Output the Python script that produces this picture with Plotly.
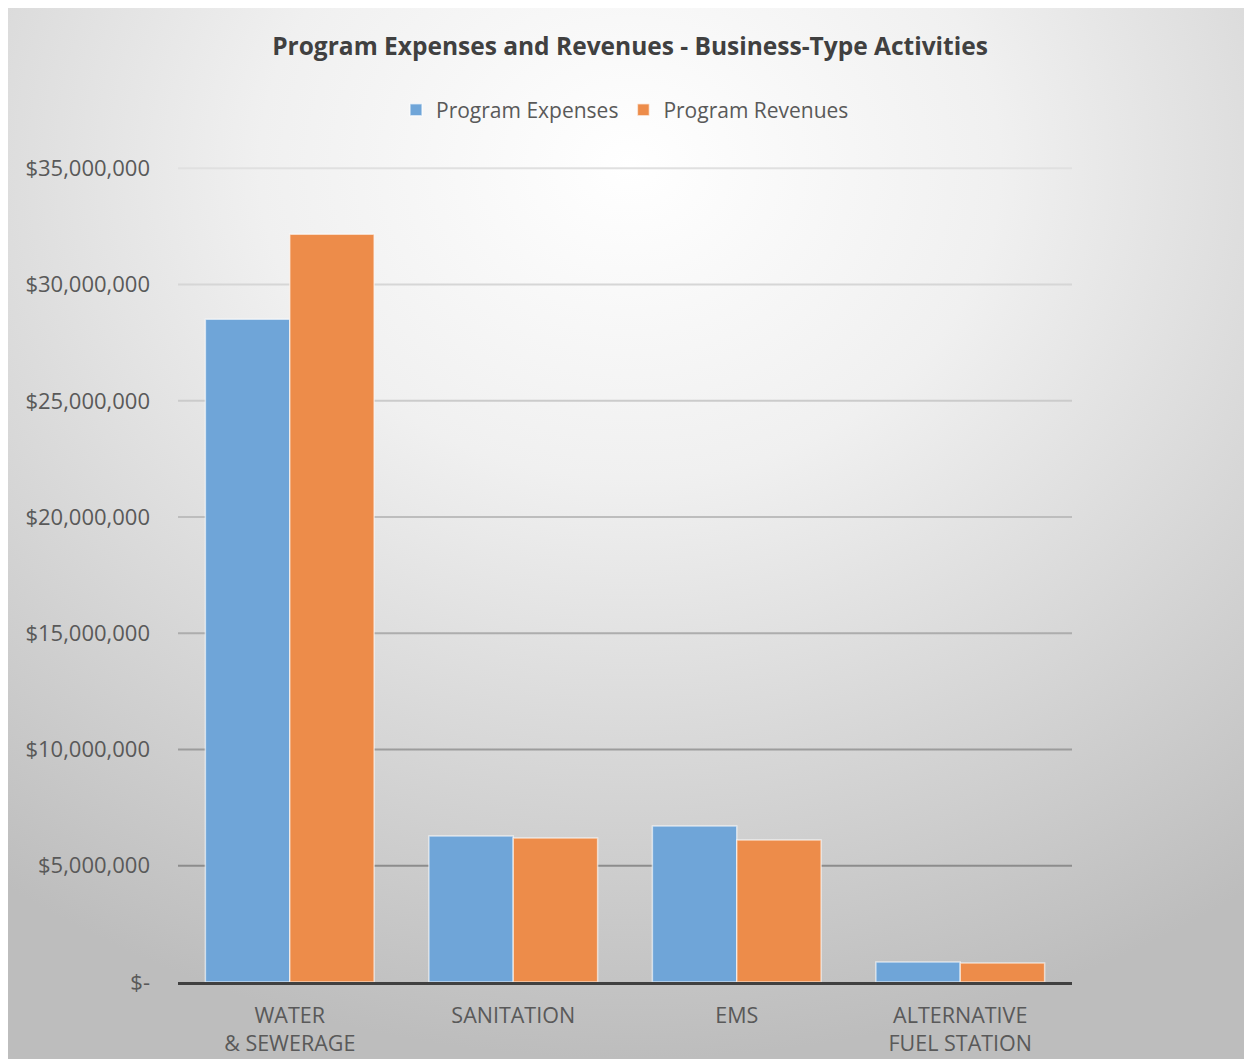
import base64
import plotly.graph_objects as go

categories = ["WATER<br>& SEWERAGE", "SANITATION", "EMS", "ALTERNATIVE<br>FUEL STATION"]
expenses = [28_510_000, 6_280_000, 6_710_000, 860_000]
revenues = [32_160_000, 6_190_000, 6_110_000, 820_000]
tick_vals = [0, 5_000_000, 10_000_000, 15_000_000, 20_000_000, 25_000_000, 30_000_000, 35_000_000]
tick_text = ["$-", "$5,000,000", "$10,000,000", "$15,000,000", "$20,000,000",
             "$25,000,000", "$30,000,000", "$35,000,000"]
grid_colors = [None, "#8c8c8c", "#9c9c9c", "#adadad", "#bdbdbd", "#cbcbcb", "#d6d6d6", "#e0e0e0"]

# page body has an 8px margin, so the figure is offset by 8px
W, H = 1244, 1051
L, T = 170, 158
pw, ph = 894, 816
R, B = W - L - pw, H - T - ph

svg = f"""<svg xmlns='http://www.w3.org/2000/svg' width='{W}' height='{H}' preserveAspectRatio='none'>
<defs><radialGradient id='g' cx='50%' cy='15%' r='85%' fx='50%' fy='15%'>
<stop offset='0' stop-color='#ffffff'/><stop offset='0.35' stop-color='#f0f0f0'/>
<stop offset='1' stop-color='#bdbdbd'/></radialGradient></defs>
<rect x='0' y='0' width='{W}' height='{H}' fill='url(#g)'/>
</svg>"""
src = "data:image/svg+xml;base64," + base64.b64encode(svg.encode()).decode()

fig = go.Figure()
fig.add_trace(go.Bar(x=categories, y=expenses, name="Program Expenses",
                     marker=dict(color="#6fa5d8", line=dict(color="rgba(255,255,255,0.6)", width=1.5))))
fig.add_trace(go.Bar(x=categories, y=revenues, name="Program Revenues",
                     marker=dict(color="#ed8c4a", line=dict(color="rgba(255,255,255,0.6)", width=1.5))))

for v, c in zip(tick_vals, grid_colors):
    if c is None:
        continue
    fig.add_shape(type="line", xref="paper", yref="y", x0=0, x1=1, y0=v, y1=v,
                  line=dict(color=c, width=2), layer="below")

fig.update_layout(
    width=W, height=H,
    margin=dict(l=L, r=R, t=T, b=B, autoexpand=False),
    paper_bgcolor="#e8e8e8",
    plot_bgcolor="rgba(0,0,0,0)",
    font=dict(family="Open Sans", size=21, color="#595959"),
    title=dict(text="<b>Program Expenses and Revenues - Business-Type Activities</b>",
               x=0.5, xanchor="center", y=1 - 38 / H, yanchor="middle",
               font=dict(family="Open Sans", size=24.5, color="#404040")),
    legend=dict(orientation="h", x=0.5, xanchor="center", y=1 + 56 / ph, yanchor="middle",
                font=dict(size=21, color="#595959"), bgcolor="rgba(0,0,0,0)",
                itemwidth=30, traceorder="normal"),
    barmode="group", bargap=0.245, bargroupgap=0,
    images=[dict(source=src, xref="paper", yref="paper",
                 x=-L / pw, y=1 + T / ph, sizex=W / pw, sizey=H / ph,
                 xanchor="left", yanchor="top", sizing="stretch", layer="below")],
)
fig.update_yaxes(range=[0, 35_100_000], tickvals=tick_vals, ticktext=tick_text,
                 showgrid=False, zeroline=False, ticks="", ticklabelstandoff=27, showline=False,
                 automargin=False, tickfont=dict(size=22, color="#595959"))
fig.update_xaxes(showline=True, linecolor="#404040", linewidth=3, ticks="",
                 automargin=False, tickfont=dict(size=21.5, color="#595959"),
                 ticklabelstandoff=12)

fig.write_html("out.html")
